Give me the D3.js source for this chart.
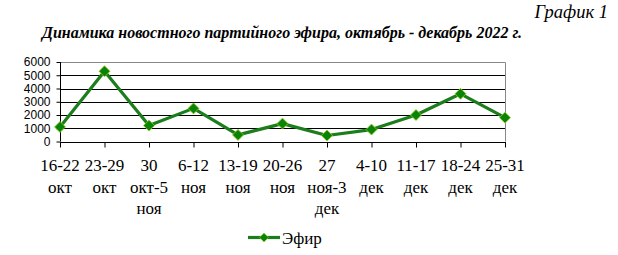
<!DOCTYPE html>
<html>
<head>
<meta charset="utf-8">
<script src="https://cdn.jsdelivr.net/npm/d3@7"></script>
</head>
<body style="margin:0">
<script>
// weekly periods, each label split in lines
const periods = [
  ["16-22", "окт"],
  ["23-29", "окт"],
  ["30", "окт-5", "ноя"],
  ["6-12", "ноя"],
  ["13-19", "ноя"],
  ["20-26", "ноя"],
  ["27", "ноя-3", "дек"],
  ["4-10", "дек"],
  ["11-17", "дек"],
  ["18-24", "дек"],
  ["25-31", "дек"]
];
const efir = [1100, 5300, 1200, 2500, 500, 1350, 450, 900, 2000, 3600, 1800];
const yTicks = [0, 1000, 2000, 3000, 4000, 5000, 6000];
const seriesName = "Эфир";
const title = "Динамика новостного партийного эфира, октябрь - декабрь 2022 г.";
const chartNo = "График 1";

const SERIF = '"Liberation Serif"';
const SANS = '"Liberation Sans"';

const width = 618, height = 255;
const plot = { left: 60, right: 505, top: 62, bottom: 141.5 };

const svg = d3.select("body")
  .append("svg")
  .attr("width", width)
  .attr("height", height)
  .style("display", "block");

const x = d3.scalePoint()
  .domain(d3.range(periods.length))
  .range([plot.left, plot.right]);

const y = d3.scaleLinear()
  .domain([0, 6000])
  .range([plot.bottom, plot.top]);

// titles
svg.append("text")
  .style("font-family", SERIF)
  .attr("font-style", "italic")
  .attr("font-size", 18.5)
  .attr("x", 608)
  .attr("y", 18)
  .attr("text-anchor", "end")
  .text(chartNo);

svg.append("text")
  .style("font-family", SERIF)
  .attr("font-style", "italic")
  .attr("font-weight", "bold")
  .attr("font-size", 16)
  .attr("x", 42)
  .attr("y", 38)
  .text(title);

// gridlines
svg.append("g")
  .selectAll("line")
  .data(yTicks.filter(d => d > 0 && d < 6000))
  .join("line")
  .attr("x1", plot.left)
  .attr("x2", plot.right)
  .attr("y1", d => Math.round(y(d)) + 0.5)
  .attr("y2", d => Math.round(y(d)) + 0.5)
  .attr("stroke", "#000")
  .attr("stroke-width", 1);

// plot border, top and right in grey
svg.append("path")
  .attr("d", `M${plot.left},${Math.round(y(6000)) + 0.5}H${plot.right + 0.5}V${plot.bottom}`)
  .attr("fill", "none")
  .attr("stroke", "#888")
  .attr("stroke-width", 1);

// y axis
const yAxis = svg.append("g")
  .attr("transform", `translate(${plot.left + 0.5},0)`)
  .call(d3.axisLeft(y).tickValues(yTicks).tickSize(4).tickPadding(6).tickFormat(d3.format("d")));
yAxis.select(".domain").attr("d", `M0,${y(6000)}V${y(0)}`).attr("stroke", "#000");
yAxis.selectAll("text")
  .style("font-family", SANS)
  .attr("font-size", 12)
  .attr("fill", "#000");

// x axis
const xAxis = svg.append("g")
  .attr("transform", `translate(0,${Math.round(y(0)) + 0.5})`)
  .call(d3.axisBottom(x).tickSize(5).tickFormat(""));
xAxis.select(".domain").attr("d", `M${plot.left},0H${plot.right + 1}`).attr("stroke", "#000");
xAxis.selectAll(".tick line").attr("stroke", "#000");

// multi-line category labels, one text per line
const labelLines = periods.flatMap((p, i) => p.map((s, j) => ({ s, i, j })));
svg.append("g")
  .selectAll("text")
  .data(labelLines)
  .join("text")
  .style("font-family", SERIF)
  .attr("font-size", 17)
  .attr("text-anchor", "middle")
  .attr("x", d => x(d.i))
  .attr("y", d => 171 + d.j * 21.5)
  .text(d => d.s);

// line
const line = d3.line()
  .x((d, i) => x(i))
  .y(d => y(d));

svg.append("path")
  .datum(efir)
  .attr("d", line)
  .attr("fill", "none")
  .attr("stroke", "#1b7d1b")
  .attr("stroke-width", 3.2)
  .attr("stroke-linejoin", "round");

const diamond = "M0,-5.5L5.5,0L0,5.5L-5.5,0Z";
svg.append("g")
  .selectAll("path")
  .data(efir)
  .join("path")
  .attr("transform", (d, i) => `translate(${x(i)},${y(d)})`)
  .attr("d", diamond)
  .attr("fill", "#098409")
  .attr("stroke", "#9acd1a")
  .attr("stroke-width", 0.8);

// legend
const legend = svg.append("g").attr("transform", "translate(248,237.5)");
legend.append("line")
  .attr("x1", 0).attr("x2", 32)
  .attr("stroke", "#1b7d1b")
  .attr("stroke-width", 3.2);
legend.append("path")
  .attr("transform", "translate(16,0) scale(0.8)")
  .attr("d", diamond)
  .attr("fill", "#098409")
  .attr("stroke", "#9acd1a")
  .attr("stroke-width", 0.8);
legend.append("text")
  .style("font-family", SERIF)
  .attr("font-size", 17)
  .attr("x", 34)
  .attr("y", 6)
  .text(seriesName);
</script>
</body>
</html>
